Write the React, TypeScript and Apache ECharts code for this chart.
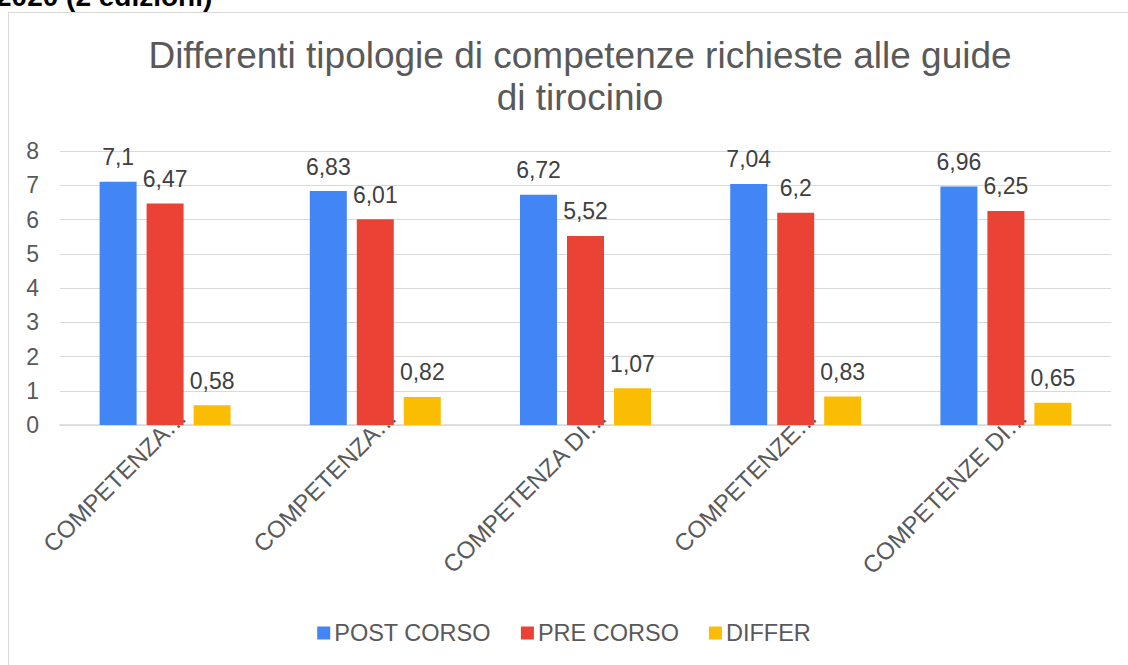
import React, { useEffect, useRef } from "react";
import * as echarts from "echarts";

const categories = [
  "COMPETENZA…",
  "COMPETENZA…",
  "COMPETENZA DI…",
  "COMPETENZE…",
  "COMPETENZE DI…",
];
const postCorso = [7.1, 6.83, 6.72, 7.04, 6.96];
const preCorso = [6.47, 6.01, 5.52, 6.2, 6.25];
const differ = [0.58, 0.82, 1.07, 0.83, 0.65];
const seriesNames = ["POST CORSO", "PRE CORSO", "DIFFER"];
const colors = ["#4285F4", "#EA4335", "#FBBC04"];

const FONT = 'Arial, "Liberation Sans", sans-serif';

export default function App() {
  const ref = useRef<HTMLDivElement>(null);
  useEffect(() => {
    if (!ref.current) return;
    const chart = echarts.init(ref.current, null, { renderer: "svg" });
    const labelCfg = {
      show: true,
      position: "top",
      distance: 13,
      color: "#404040",
      fontSize: 23,
      fontFamily: FONT,
      formatter: (p: any) => String(p.value).replace(".", ","),
    };
    const data = [postCorso, preCorso, differ];
    chart.setOption({
      animation: false,
      backgroundColor: "#ffffff",
      textStyle: { fontFamily: FONT },
      graphic: [
        {
          type: "rect",
          shape: { x: 8.5, y: 12.5, width: 1300, height: 800 },
          style: { fill: "none", stroke: "#d9d9d9", lineWidth: 1 },
          silent: true,
          z: -10,
        },
        {
          type: "text",
          left: -4,
          top: -18,
          style: {
            text: "2020 (2 edizioni)",
            fontSize: 28,
            fontWeight: "bold",
            fontFamily: FONT,
            fill: "#000000",
          },
        },
      ],
      title: {
        text: "Differenti tipologie di competenze richieste alle guide\ndi tirocinio",
        left: 575,
        textAlign: "center",
        top: 29,
        textStyle: {
          fontSize: 37,
          fontWeight: "normal",
          color: "#595959",
          fontFamily: FONT,
          lineHeight: 42,
        },
      },
      legend: {
        bottom: 15,
        left: "center",
        itemWidth: 13,
        itemHeight: 13,
        itemGap: 30,
        icon: "rect",
        textStyle: { fontSize: 23.5, color: "#595959", fontFamily: FONT, padding: [0, 0, 0, -1] },
        data: seriesNames,
      },
      grid: { left: 60, right: 17, top: 151, bottom: 240, containLabel: false },
      xAxis: {
        type: "category",
        data: categories,
        axisTick: { show: false },
        axisLine: { lineStyle: { color: "#d9d9d9", width: 1.5 } },
        axisLabel: {
          rotate: 45,
          interval: 0,
          margin: 5,
          fontSize: 24,
          color: "#595959",
          fontFamily: FONT,
          padding: [0, -24, 0, 0],
        },
      },
      yAxis: {
        type: "value",
        min: 0,
        max: 8,
        interval: 1,
        axisLine: { show: false },
        axisTick: { show: false },
        splitLine: { lineStyle: { color: "#d9d9d9", width: 1 } },
        axisLabel: { fontSize: 23, color: "#595959", margin: 21, fontFamily: FONT },
      },
      series: seriesNames.map((name, i) => ({
        name,
        type: "bar",
        data: data[i],
        barWidth: 37,
        barGap: "27%",
        itemStyle: { color: colors[i] },
        label: labelCfg,
      })),
    });
    return () => chart.dispose();
  }, []);
  return (
    <div
      ref={ref}
      style={{ position: "fixed", left: 0, top: 0, width: 1128, height: 665 }}
    />
  );
}
